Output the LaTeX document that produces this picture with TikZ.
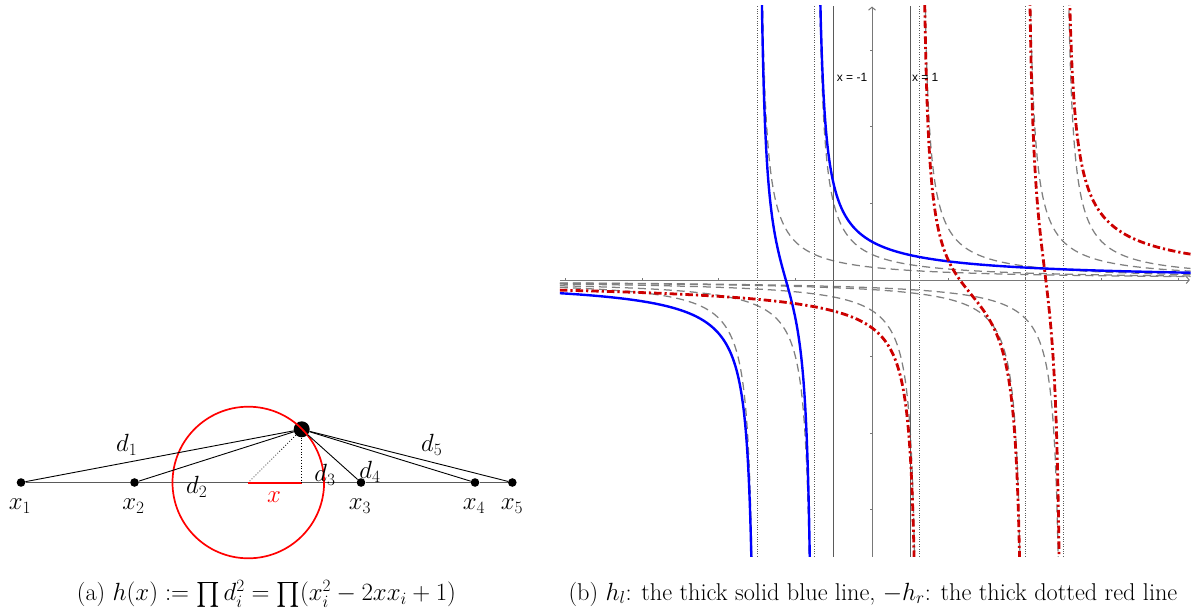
\documentclass[tikz,border=0pt]{standalone}
\usepackage{amsmath}
\usepackage{fontspec}
\newfontfamily\ggbfont{Liberation Sans}
\usetikzlibrary{arrows.meta}
\definecolor{ggbblue}{RGB}{0,0,255}
\definecolor{ggbred}{RGB}{204,0,0}
\definecolor{ggbgray}{RGB}{128,128,128}
\definecolor{axisgray}{RGB}{120,120,120}
\definecolor{linegray}{RGB}{90,90,90}
\tikzset{
  dot/.style={circle,fill=black,inner sep=0pt,minimum size=8.6pt},
  bigdot/.style={circle,fill=black,inner sep=0pt,minimum size=16pt},
  lbl/.style={inner sep=0pt,font=\fontsize{26.5}{30}\selectfont},
  captext/.style={inner sep=0pt,font=\fontsize{24.3}{28}\selectfont},
  seg/.style={black,line width=0.9pt},
  axisline/.style={linegray,line width=1.1pt},
  circ/.style={red,line width=1.7pt},
  gdash/.style={ggbgray,line width=1.25pt,dash pattern=on 8pt off 5pt},
  vdot/.style={linegray,line width=0.8pt,dash pattern=on 0.8pt off 1.6pt},
  vsolid/.style={linegray,line width=1.1pt},
  gaxis/.style={axisgray,line width=1pt},
  bluecurve/.style={ggbblue,line width=2.4pt},
  redcurve/.style={ggbred,line width=2.8pt,dash pattern=on 7.5pt off 3pt on 2.2pt off 3pt},
  ggb/.style={inner sep=0pt,font=\ggbfont\fontsize{12}{14}\selectfont}
}
\begin{document}
\begin{tikzpicture}[x=1pt,y=-1pt]
\useasboundingbox (0,0) rectangle (1197,614);
% ---------------- (a) ----------------
\coordinate (c) at (248.3,482.5);
\coordinate (f) at (301.7,482.5);
\node[dot] (p1) at (21,482.5) {};
\node[dot] (p2) at (134.5,482.5) {};
\node[dot] (p3) at (361,482.5) {};
\node[dot] (p4) at (475,482.5) {};
\node[dot] (p5) at (512.3,482.5) {};
\node[bigdot] (q) at (301.7,429.3) {};
\draw[axisline] (p1) -- (p2) (p2) -- (p3) (p3) -- (p4) (p4) -- (p5);
\draw[circ] (c) circle[radius=75.8pt];
\draw[red,line width=2pt] (c) -- (f);
\draw[black,line width=0.8pt,dotted] (q) -- (c);
\draw[black,line width=0.8pt,dotted] (q) -- (f);
\foreach \i in {1,...,5} \draw[seg] (q) -- (p\i);
\node[lbl] (d1) at (126.7,445) {$d_1$};
\node[lbl] (d2) at (196.7,487) {$d_2$};
\node[lbl] (d3) at (325,475) {$d_3$};
\node[lbl] (d4) at (370,471.5) {$d_4$};
\node[lbl] (d5) at (431.7,445) {$d_5$};
\node[lbl,red] (xl) at (274,497) {$x$};
\node[lbl] (x1) at (20,506) {$x_1$};
\node[lbl] (x2) at (133.5,506) {$x_2$};
\node[lbl] (x3) at (360,506) {$x_3$};
\node[lbl] (x4) at (474,506) {$x_4$};
\node[lbl] (x5) at (512,506) {$x_5$};
\node[captext] (capa) at (266.5,594) {(a) $h(x) := \prod d_i^2 = \prod(x_i^2 - 2xx_i + 1)$};
% ---------------- (b) ----------------
\begin{scope}[shift={(872pt,-280pt)},x=38.3pt,y=38.3pt]
  \begin{scope}
    \clip (-8.15,-7.22) rectangle (8.32,7.16);
    \foreach \a in {-3,-1.5,1.25,4,5} {
      \pgfmathsetmacro{\lo}{\a-0.09}
      \pgfmathsetmacro{\hi}{\a+0.09}
      \draw[gdash] plot[domain=-8.15:\lo,samples=300] (\x,{1/(\x-(\a))});
      \draw[gdash] plot[domain=\hi:8.32,samples=300] (\x,{1/(\x-(\a))});
    }
    \foreach \a in {-3,-1.5,1.25,4,5} \draw[vdot] (\a,-7.22) -- (\a,7.16);
    \draw[vsolid] (-1,-7.22) -- (-1,7.16);
    \draw[vsolid] (1,-7.22) -- (1,7.16);
    \draw[gaxis] (-8.15,0) -- (8.2,0);
    \draw[gaxis] (0,-7.22) -- (0,7.05);
    \draw[bluecurve] plot[domain=-8.15:-3.09,samples=400] (\x,{1/(\x+3)+1/(\x+1.5)});
    \draw[bluecurve] plot[domain=-2.91:-1.59,samples=300] (\x,{1/(\x+3)+1/(\x+1.5)});
    \draw[bluecurve] plot[domain=-1.41:8.32,samples=400] (\x,{1/(\x+3)+1/(\x+1.5)});
    \draw[redcurve] plot[domain=-8.15:1.16,samples=400] (\x,{1/(\x-1.25)+1/(\x-4)+1/(\x-5)});
    \draw[redcurve] plot[domain=1.34:3.91,samples=300] (\x,{1/(\x-1.25)+1/(\x-4)+1/(\x-5)});
    \draw[redcurve] plot[domain=4.09:4.91,samples=200] (\x,{1/(\x-1.25)+1/(\x-4)+1/(\x-5)});
    \draw[redcurve] plot[domain=5.09:8.32,samples=300] (\x,{1/(\x-1.25)+1/(\x-4)+1/(\x-5)});
  \end{scope}
  \coordinate (xe) at (8.3,0);
  \coordinate (xs) at (8.0,0);
  \coordinate (ye) at (0,7.14);
  \coordinate (ys) at (0,6.9);
  \draw[gaxis,-{Straight Barb[length=3pt,width=7pt]}] (xs) -- (xe);
  \draw[gaxis,-{Straight Barb[length=3pt,width=7pt]}] (ys) -- (ye);
  \foreach \t in {-8,-6,-4,-2,2,4,6,8} \draw[gaxis] (\t,0) -- ++(0pt,2.5pt);
  \foreach \t in {-6,-4,-2,2,4,6} \draw[gaxis] (0,\t) -- ++(-2.5pt,0pt);
  \node[ggb] (lm) at (-0.52,5.30) {x = -1};
  \node[ggb] (lp) at (1.39,5.30) {x = 1};
\end{scope}
\node[captext] (capb) at (873,594) {(b) $h_l$: the thick solid blue line, $-h_r$: the thick dotted red line};
\end{tikzpicture}
\end{document}
